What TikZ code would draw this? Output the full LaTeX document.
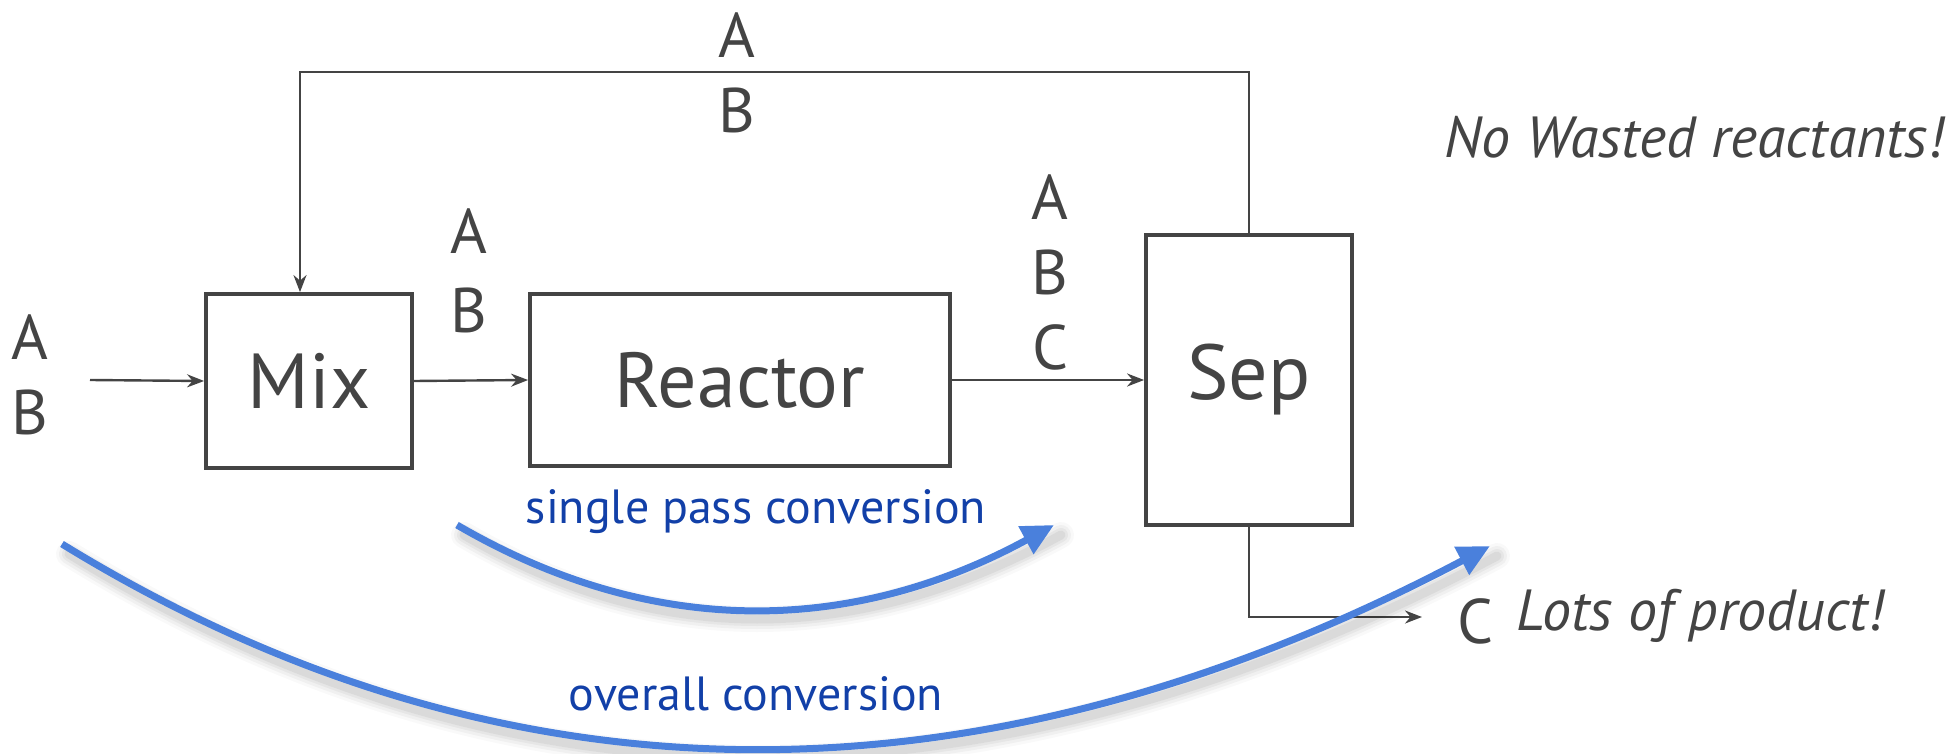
\documentclass[tikz,border=0pt]{standalone}
\usepackage{fontspec}
\setmainfont{PT Sans}
\usetikzlibrary{arrows.meta,calc}
\definecolor{ink}{HTML}{444444}
\definecolor{arcblue}{HTML}{4A80DC}
\definecolor{txtblue}{HTML}{1240A8}
\begin{document}
\begin{tikzpicture}[x=1pt,y=-1pt,
  unit/.style={draw=ink,line width=3.8pt,text=ink,inner sep=0pt,
    font=\fontsize{78}{90}\selectfont},
  lbl/.style={text=ink,inner sep=0pt,font=\fontsize{63}{70}\selectfont},
  remark/.style={text=ink,inner sep=0pt,font=\fontsize{58}{66}\selectfont\itshape},
  convtext/.style={text=txtblue,inner sep=0pt,font=\fontsize{48}{56}\selectfont},
  flow/.style={draw=ink,line width=2.4pt,-{Stealth[length=17pt,width=13pt]}},
  conv/.style={draw=arcblue,line width=7pt,-{Triangle[length=32pt,width=30pt]}},
]
\useasboundingbox (0,0) rectangle (1960,754);

% process units
\node[unit,minimum width=206pt,minimum height=174pt] (mix) at (309,381) {Mix};
\node[unit,minimum width=420pt,minimum height=172pt] (reac) at (740,380) {Reactor};
\node[unit,minimum width=206pt,minimum height=290pt] (sep) at (1249,380) {Sep};

% stream contents
\node[lbl] (inA) at (30,337) {A};
\node[lbl] (inB) at (30,412) {B};
\node[lbl] (mA) at (469,231) {A};
\node[lbl] (mB) at (469,310) {B};
\node[lbl] (rA) at (1050,197) {A};
\node[lbl] (rB) at (1050,272) {B};
\node[lbl] (rC) at (1050,347) {C};
\node[lbl] (tA) at (737,35) {A};
\node[lbl] (tB) at (737,110) {B};
\node[lbl] (pC) at (1475,621) {C};

% remarks
\node[remark] (waste) at (1694,137) {No Wasted reactants!};
\node[remark] (lots) at (1700,616) {Lots of product!};

% streams
\coordinate (feed) at (90,380);
\coordinate (rtop) at (770,72);
\coordinate (pend) at (1422,617);
\draw[flow] (feed) -- (mix.west);
\draw[flow] (mix.east) -- (reac.west);
\draw[flow] (reac.east) -- (sep.west);
\draw[flow] (sep.north) |- (rtop) -| ([xshift=-9pt]mix.north);
\draw[flow] (sep.south) |- (pend);

% conversion arcs (cubic form of a parabola-like bow)
\coordinate (s1) at (457,525);
\coordinate (s2) at (649,637);
\coordinate (s3) at (848,637);
\coordinate (s4) at (1054,525);
\coordinate (b1) at (62,544);
\coordinate (b2) at (503,815);
\coordinate (b3) at (979,816);
\coordinate (b4) at (1490,546);

\foreach \w/\o in {26/0.025,20/0.035,14/0.045,9/0.05} {
  \draw[line width=\w pt,black,opacity=\o,line cap=round]
    ($(s1)+(7,10)$) .. controls ($(s2)+(7,10)$) and ($(s3)+(7,10)$) .. ($(s4)+(7,10)$);
  \draw[line width=\w pt,black,opacity=\o,line cap=round]
    ($(b1)+(7,10)$) .. controls ($(b2)+(7,10)$) and ($(b3)+(7,10)$) .. ($(b4)+(7,10)$);
}
\draw[conv] (s1) .. controls (s2) and (s3) .. (s4);
\draw[conv] (b1) .. controls (b2) and (b3) .. (b4);

\node[convtext] (single) at (756,512) {single pass conversion};
\node[convtext] (overall) at (756,694) {overall conversion};
\end{tikzpicture}
\end{document}
